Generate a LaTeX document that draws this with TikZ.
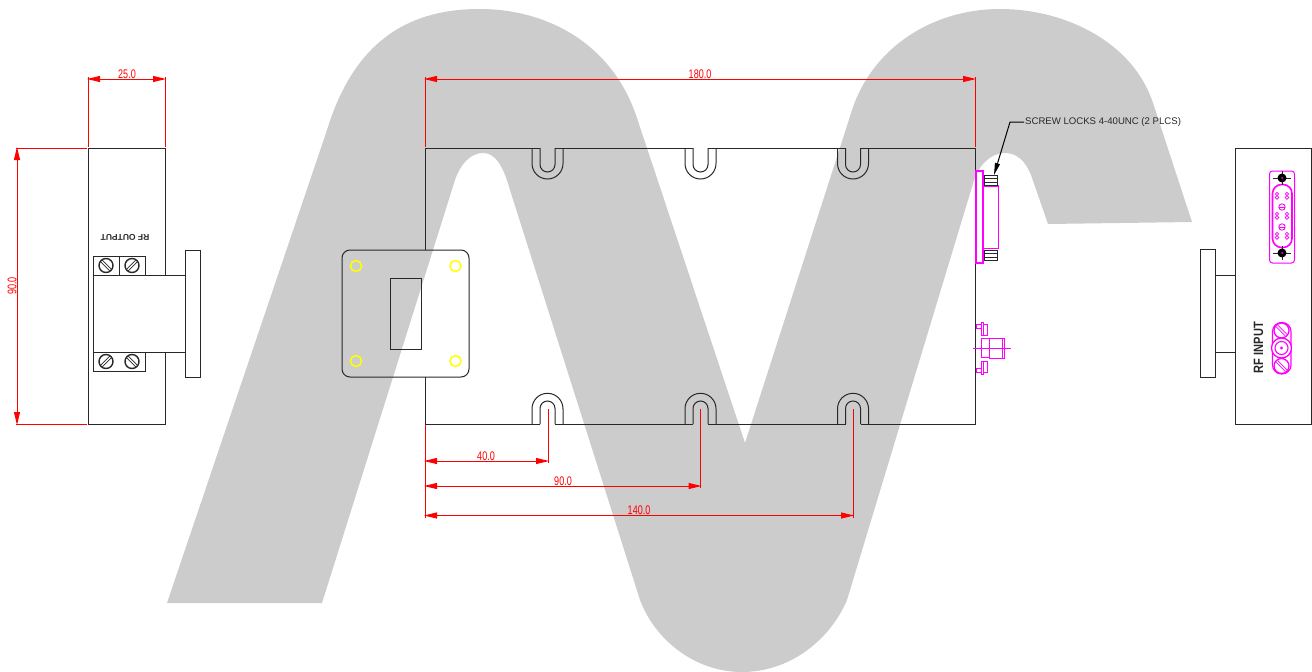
\documentclass[tikz,border=0pt]{standalone}
\usepackage{fontspec}
\setmainfont{Liberation Sans}
\usetikzlibrary{arrows.meta, calc}
\definecolor{logogray}{RGB}{204, 204, 204}
\definecolor{dimred}{RGB}{255, 0, 0}
\definecolor{connmag}{RGB}{255, 0, 255}
\definecolor{holeyel}{RGB}{255, 255, 0}
\definecolor{outline}{RGB}{40, 40, 40}
\tikzset{
  part/.style={draw=outline, line width=1pt},
  conn/.style={draw=connmag, line width=1.2pt},
  dimline/.style={draw=dimred, line width=1pt, shorten <=-1pt, shorten >=-1pt, {Triangle[length=13pt,width=6pt]}-{Triangle[length=13pt,width=6pt]}},
  extline/.style={draw=dimred, line width=1pt},
  dimfont/.style={text=dimred, font=\fontsize{12.5}{12.5}\selectfont, inner sep=0pt},
  dimtext/.style={dimfont, xscale=0.72},
  slot/.style={draw=outline, line width=1pt}
}
\begin{document}
\begin{tikzpicture}[x=1pt, y=-1pt, line join=miter]
  \useasboundingbox (0,0) rectangle (1312,672);

  % Background logo
  \fill[logogray] (167,603) -- (327,130)
    .. controls (356,35) and (415,9) .. (480,9)
    .. controls (545,9) and (612,42) .. (637,118)
    -- (745,443) -- (853,107)
    .. controls (875,45) and (935,9) .. (1000,9)
    .. controls (1065,9) and (1133,42) .. (1153,103)
    -- (1192,222) -- (1048,224) -- (1031,175)
    .. controls (1025,160) and (1016,153) .. (1005,153)
    .. controls (992,153) and (981,163) .. (975,177)
    -- (847,600)
    .. controls (830,640) and (790,672) .. (742,672)
    .. controls (695,672) and (655,640) .. (640,600)
    -- (510,190)
    .. controls (503,165) and (495,153) .. (483,153)
    .. controls (470,153) and (460,165) .. (455,180)
    -- (322,603) -- cycle;

  % Left view
  \draw[part] (88,424) -- (88,148) -- (165,148) -- (165,275);
  \draw[part] (88,424) -- (165,424) -- (165,352);
  \draw[part] (185,250) rectangle (200,377);
  \draw[part] (93,275) rectangle (185,352);
  \draw[part] (93,256) rectangle (145,275);
  \draw[part] (93,352) rectangle (145,371);
  \draw[part] (119,256) -- (119,275);
  \foreach \sx/\sy/\sa in {106/265.5/45, 132/265.5/135, 106/361.5/135, 132/361.5/45} {
    \draw[part, line width=1.4pt] (\sx,\sy) circle (7);
    \draw[part, line width=0.7pt, rotate around={-\sa:(\sx,\sy)}] (\sx-6.5,\sy-1.2) -- (\sx+6.5,\sy-1.2) (\sx-6.5,\sy+1.2) -- (\sx+6.5,\sy+1.2);
  }
  \node[font=\bfseries\fontsize{8.5}{8.5}\selectfont, rotate=180, text=outline, inner sep=0pt] (rfout) at (125,237) {RF OUTPUT};

  % Left view dimensions
  \draw[extline] (88,77) -- (88,147);
  \draw[extline] (165,77) -- (165,147);
  \draw[dimline] (88,79) -- (165,79);
  \node[dimtext] (dimw) at (127,74) {25.0};
  \draw[extline] (15.5,148) -- (87,148);
  \draw[extline] (15.5,424) -- (87,424);
  \draw[dimline] (17,148) -- (17,424);
  \node[dimfont, rotate=90, xscale=0.72] (dimh) at (12,286) {90.0};

  % Main body
  \draw[part] (425,250) -- (425,148) -- (540,148);
  \draw[part] (425,377) -- (425,424) -- (540,424);
  \foreach \cx/\nextx in {547.5/693, 700.5/845.5} {
    \draw[part] (\cx+7.5,148) -- (\nextx,148);
    \draw[part] (\cx+7.5,424) -- (\nextx,424);
  }
  \draw[part] (860.5,148) -- (975,148) -- (975,424) -- (860.5,424);
  \foreach \cx in {547.5, 700.5, 853} {
    % top slots
    \draw[slot] (\cx-15.5,148) -- (\cx-15.5,163.5) arc[start angle=180, end angle=0, radius=15.5] -- (\cx+15.5,148);
    \draw[slot] (\cx-7.5,148) -- (\cx-7.5,164.5) arc[start angle=180, end angle=0, radius=7.5] -- (\cx+7.5,148);
    % bottom slots
    \draw[slot] (\cx-15.5,424) -- (\cx-15.5,408.8) arc[start angle=180, end angle=360, radius=15.5] -- (\cx+15.5,424);
    \draw[slot] (\cx-7.5,424) -- (\cx-7.5,408.5) arc[start angle=180, end angle=360, radius=7.5] -- (\cx+7.5,424);
  }

  % Waveguide flange
  \draw[part, rounded corners=8pt] (342,250) rectangle (469,377);
  \draw[part] (390,278) rectangle (421,349);
  \foreach \hx/\hy in {356/266, 455.5/266, 356/361, 455.5/361} {
    \draw[holeyel, line width=1.5pt] (\hx,\hy) circle (5.5);
  }

  % Main body dimensions
  \draw[extline] (425,77) -- (425,147);
  \draw[extline] (975,77) -- (975,147);
  \draw[dimline] (425,79) -- (975,79);
  \node[dimtext] (dimlen) at (700,74) {180.0};
  \draw[extline] (425,425) -- (425,518);
  \draw[extline] (548,409) -- (548,463);
  \draw[extline] (700.5,409) -- (700.5,488);
  \draw[extline] (853,409) -- (853,518);
  \draw[dimline] (425,461) -- (548,461);
  \draw[dimline] (425,486) -- (700.5,486);
  \draw[dimline] (425,515.5) -- (853,515.5);
  \node[dimtext] (dima) at (486,456) {40.0};
  \node[dimtext] (dimb) at (563,481) {90.0};
  \node[dimtext] (dimc) at (639,510) {140.0};

  % D-sub side view
  \draw[conn] (976,171) rectangle (983,263);
  \draw[conn] (983,186) rectangle (998.5,248.5);
  \foreach \ly in {175, 250} {
    \draw[part] (984,\ly) rectangle (997.5,\ly+10);
    \draw[part, line width=0.6pt] (984,\ly+3) -- (997.5,\ly+3) (984,\ly+7) -- (997.5,\ly+7);
  }
  \node[font=\fontsize{9.6}{10}\selectfont, anchor=west, text=outline, inner sep=1pt] (lock) at (1024,122) {SCREW LOCKS 4-40UNC (2 PLCS)};
  \coordinate (locktip) at (994,175);
  \draw[draw=black, line width=1pt, -{Triangle[length=12pt,width=5pt]}] (lock.west) -- (1010,122) -- (locktip);

  % SMA side view
  \draw[conn, line width=0.9pt] (973,348) -- (1011,348);
  \foreach \my/\ms in {348/1, 348/-1} {
    \draw[conn, line width=0.9pt] (976,\my-24*\ms) rectangle (981,\my-20*\ms);
    \draw[conn, line width=0.9pt] (981,\my-26*\ms) rectangle (983,\my-13*\ms);
    \draw[conn, line width=0.9pt] (983,\my-24*\ms) rectangle (987.5,\my-13*\ms);
  }
  \draw[conn, line width=0.9pt] (981,338.5) rectangle (989,357.5);
  \draw[conn, line width=0.9pt] (989,338) rectangle (1004,358);
  \draw[conn, line width=0.9pt] (1002,338) -- (1002,358);

  % Right view
  \draw[part] (1235,424) -- (1235,148.5) -- (1311.5,148.5) -- (1311.5,424) -- cycle;
  \draw[part] (1200.5,249.5) rectangle (1215.5,377);
  \draw[part] (1215.5,275) -- (1235,275);
  \draw[part] (1215.5,352) -- (1235,352);

  % D-sub front view
  \draw[conn, line width=1pt, rounded corners=3pt] (1269.5,171) rectangle (1294.5,263);
  \draw[conn, line width=1.6pt, rounded corners=9pt] (1272.5,184.5) rectangle (1292,247.5);
  \foreach \px in {1277, 1287} {
    \foreach \py in {196, 216, 236} {
      \draw[conn, line width=0.6pt] (\px,\py-2) circle (1.6);
      \draw[conn, line width=0.6pt] (\px,\py+1.5) circle (1.9);
    }
  }
  \foreach \py in {207, 227} {
    \draw[conn, line width=0.9pt] (1282,\py) circle (3.2);
    \draw[conn, line width=0.9pt] (1279,\py) -- (1285,\py);
  }
  \foreach \py in {178, 253} {
    \draw[outline, line width=0.9pt] (1273,\py) -- (1291,\py);
    \draw[outline, line width=0.9pt] (1282,\py-7) -- (1282,\py+7);
    \fill[black] (1282,\py) circle (4.5);
    \fill[connmag] (1282,\py) circle (1);
  }

  % SMA front view
  \draw[conn, rounded corners=9pt] (1272.5,322.5) rectangle (1291,374);
  \foreach \py in {330.5, 366} {
    \draw[conn, line width=1.3pt] (1281.5,\py) circle (7.5);
    \draw[conn, line width=0.7pt, rotate around={-45:(1281.5,\py)}] (1275,\py-1.2) -- (1288,\py-1.2) (1275,\py+1.2) -- (1288,\py+1.2);
  }
  \draw[conn, fill=white, line width=1.3pt] (1281.5,348) circle (10);
  \draw[conn, line width=1.1pt] (1281.5,348) circle (6.5);
  \fill[connmag] (1281.5,348) circle (1.7);
  \node[font=\bfseries\fontsize{13.5}{13.5}\selectfont, rotate=90, xscale=0.82, text=outline, inner sep=0pt] (rfin) at (1258.5,347.5) {RF INPUT};
\end{tikzpicture}
\end{document}
